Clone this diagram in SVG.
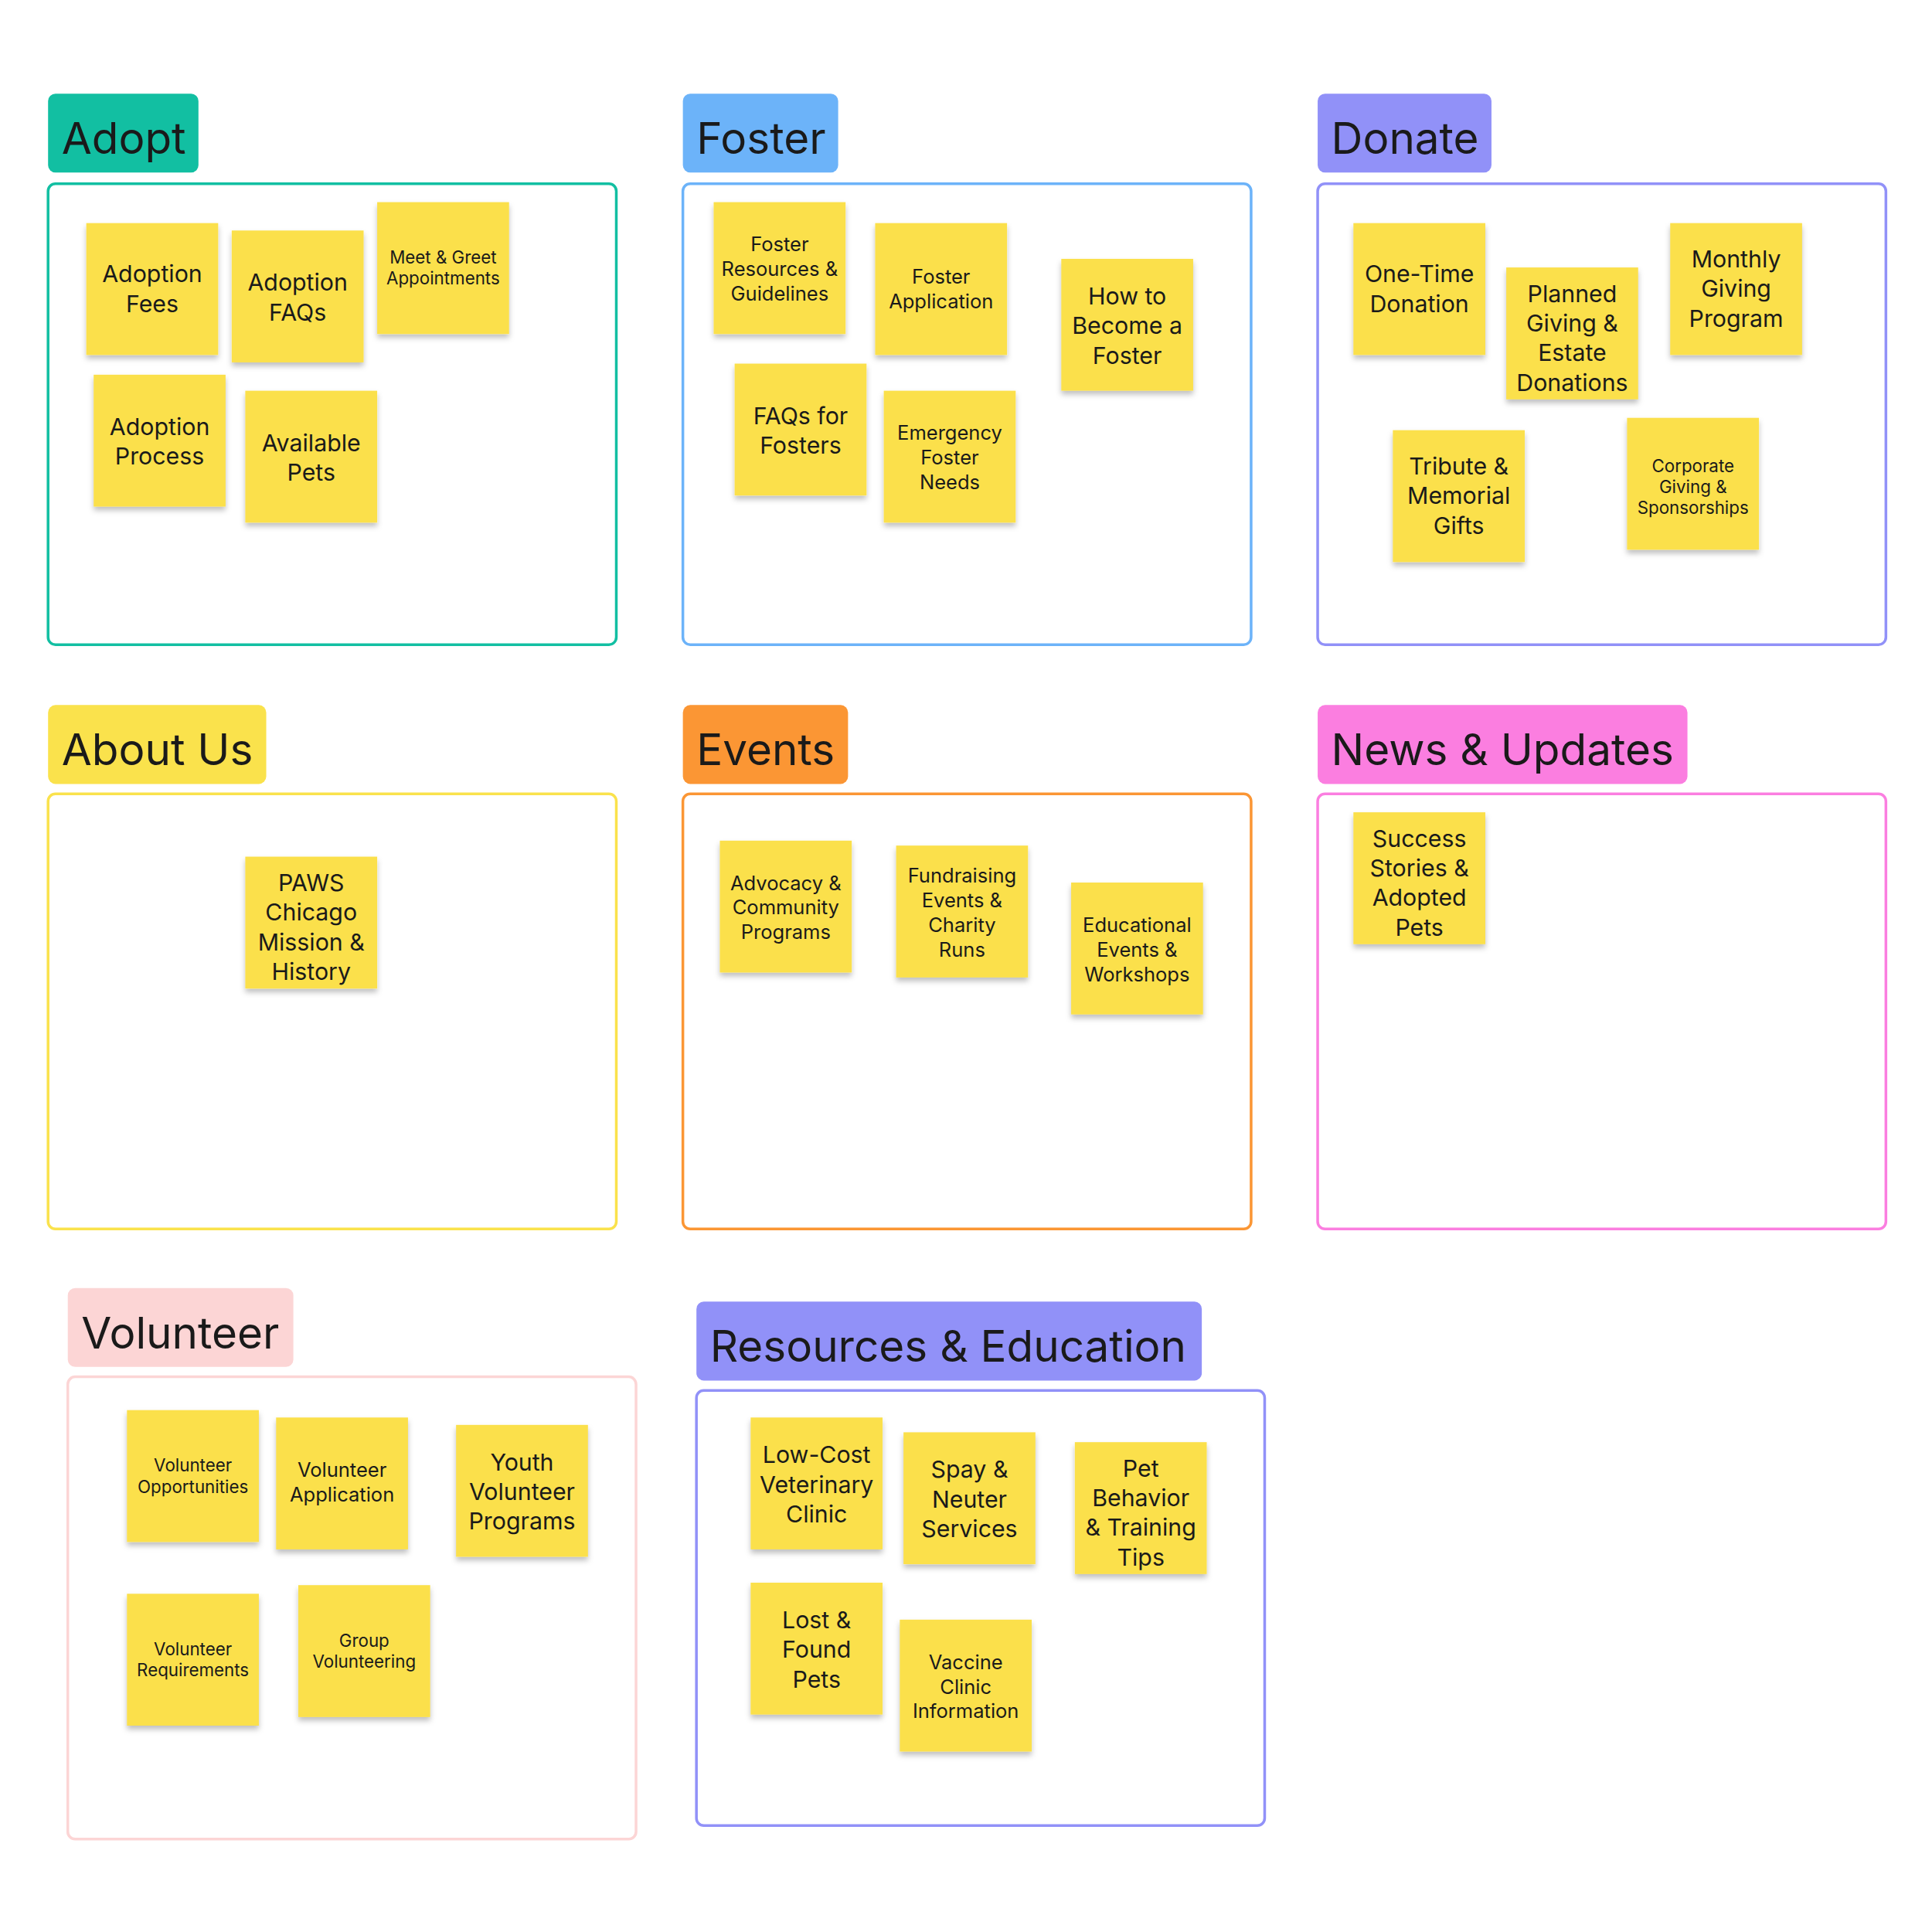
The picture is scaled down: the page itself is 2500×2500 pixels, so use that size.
<svg xmlns="http://www.w3.org/2000/svg" width="2500" height="2500" viewBox="0 0 2500 2500">
<defs>
<filter id="sh" x="-20%" y="-20%" width="140%" height="150%"><feDropShadow dx="0" dy="3" stdDeviation="2.5" flood-color="#000" flood-opacity="0.25"/></filter>
</defs>
<style>
.fr{fill:#fff;stroke-width:2.2}
.lb{font-family:Inter,"Noto Sans",sans-serif;font-size:35.5px;fill:#1a1a1a}
.st{fill:#fbe04c;filter:url(#sh)}
.t{font-family:Inter,"Noto Sans",sans-serif;fill:#1a1a1a;text-anchor:middle}
</style>
<rect width="2500" height="2500" fill="#fff"/>
<g transform="scale(1.595)">
<g id="frames">
<rect x="39" y="149" width="461" height="374" rx="6" class="fr" stroke="#12bfa2"/>
<rect x="39" y="76" width="122" height="64" rx="6" fill="#12bfa2"/><text x="50" y="125" class="lb">Adopt</text>
<rect x="554" y="149" width="461" height="374" rx="6" class="fr" stroke="#6cb3f9"/>
<rect x="554" y="76" width="126" height="64" rx="6" fill="#6cb3f9"/><text x="565" y="125" class="lb">Foster</text>
<rect x="1069" y="149" width="461" height="374" rx="6" class="fr" stroke="#9191f8"/>
<rect x="1069" y="76" width="141" height="64" rx="6" fill="#9191f8"/><text x="1080" y="125" class="lb">Donate</text>
<rect x="39" y="644" width="461" height="353" rx="6" class="fr" stroke="#fae24c"/>
<rect x="39" y="572" width="177" height="64" rx="6" fill="#fae24c"/><text x="50" y="621" class="lb">About Us</text>
<rect x="554" y="644" width="461" height="353" rx="6" class="fr" stroke="#fb9634"/>
<rect x="554" y="572" width="134" height="64" rx="6" fill="#fb9634"/><text x="565" y="621" class="lb">Events</text>
<rect x="1069" y="644" width="461" height="353" rx="6" class="fr" stroke="#fb7ee0"/>
<rect x="1069" y="572" width="300" height="64" rx="6" fill="#fb7ee0"/><text x="1080" y="621" class="lb">News &amp; Updates</text>
<rect x="55" y="1117" width="461" height="375" rx="6" class="fr" stroke="#fcd5d5"/>
<rect x="55" y="1045" width="183" height="64" rx="6" fill="#fcd5d5"/><text x="66" y="1094" class="lb">Volunteer</text>
<rect x="565" y="1128" width="461" height="353" rx="6" class="fr" stroke="#9191f8"/>
<rect x="565" y="1056" width="410" height="64" rx="6" fill="#9191f8"/><text x="576" y="1105" class="lb">Resources &amp; Education</text>
</g>
<g id="n1"><rect x="70" y="181" width="107" height="107" class="st"/><text class="t" font-size="19"><tspan x="123.5" y="229">Adoption</tspan><tspan x="123.5" y="253">Fees</tspan></text></g>
<g id="n2"><rect x="188" y="187" width="107" height="107" class="st"/><text class="t" font-size="19"><tspan x="241.5" y="236">Adoption</tspan><tspan x="241.5" y="260">FAQs</tspan></text></g>
<g id="n3"><rect x="306" y="164" width="107" height="107" class="st"/><text class="t" font-size="14"><tspan x="359.5" y="214">Meet &amp; Greet</tspan><tspan x="359.5" y="231">Appointments</tspan></text></g>
<g id="n4"><rect x="76" y="304" width="107" height="107" class="st"/><text class="t" font-size="19"><tspan x="129.5" y="353">Adoption</tspan><tspan x="129.5" y="377">Process</tspan></text></g>
<g id="n5"><rect x="199" y="317" width="107" height="107" class="st"/><text class="t" font-size="19"><tspan x="252.5" y="366">Available</tspan><tspan x="252.5" y="390">Pets</tspan></text></g>
<g id="n6"><rect x="579" y="164" width="107" height="107" class="st"/><text class="t" font-size="16"><tspan x="632.5" y="204">Foster</tspan><tspan x="632.5" y="224">Resources &amp;</tspan><tspan x="632.5" y="244">Guidelines</tspan></text></g>
<g id="n7"><rect x="710" y="181" width="107" height="107" class="st"/><text class="t" font-size="16"><tspan x="763.5" y="230">Foster</tspan><tspan x="763.5" y="250">Application</tspan></text></g>
<g id="n8"><rect x="861" y="210" width="107" height="107" class="st"/><text class="t" font-size="19"><tspan x="914.5" y="247">How to</tspan><tspan x="914.5" y="271">Become a</tspan><tspan x="914.5" y="295">Foster</tspan></text></g>
<g id="n9"><rect x="596" y="295" width="107" height="107" class="st"/><text class="t" font-size="19"><tspan x="649.5" y="344">FAQs for</tspan><tspan x="649.5" y="368">Fosters</tspan></text></g>
<g id="n10"><rect x="717" y="317" width="107" height="107" class="st"/><text class="t" font-size="16"><tspan x="770.5" y="357">Emergency</tspan><tspan x="770.5" y="377">Foster</tspan><tspan x="770.5" y="397">Needs</tspan></text></g>
<g id="n11"><rect x="1098" y="181" width="107" height="107" class="st"/><text class="t" font-size="19"><tspan x="1151.5" y="229">One-Time</tspan><tspan x="1151.5" y="253">Donation</tspan></text></g>
<g id="n12"><rect x="1222" y="217" width="107" height="107" class="st"/><text class="t" font-size="19"><tspan x="1275.5" y="245">Planned</tspan><tspan x="1275.5" y="269">Giving &amp;</tspan><tspan x="1275.5" y="293">Estate</tspan><tspan x="1275.5" y="317">Donations</tspan></text></g>
<g id="n13"><rect x="1355" y="181" width="107" height="107" class="st"/><text class="t" font-size="19"><tspan x="1408.5" y="217">Monthly</tspan><tspan x="1408.5" y="241">Giving</tspan><tspan x="1408.5" y="265">Program</tspan></text></g>
<g id="n14"><rect x="1130" y="349" width="107" height="107" class="st"/><text class="t" font-size="19"><tspan x="1183.5" y="385">Tribute &amp;</tspan><tspan x="1183.5" y="409">Memorial</tspan><tspan x="1183.5" y="433">Gifts</tspan></text></g>
<g id="n15"><rect x="1320" y="339" width="107" height="107" class="st"/><text class="t" font-size="14"><tspan x="1373.5" y="383">Corporate</tspan><tspan x="1373.5" y="400">Giving &amp;</tspan><tspan x="1373.5" y="417">Sponsorships</tspan></text></g>
<g id="n16"><rect x="199" y="695" width="107" height="107" class="st"/><text class="t" font-size="19"><tspan x="252.5" y="723">PAWS</tspan><tspan x="252.5" y="747">Chicago</tspan><tspan x="252.5" y="771">Mission &amp;</tspan><tspan x="252.5" y="795">History</tspan></text></g>
<g id="n17"><rect x="584" y="682" width="107" height="107" class="st"/><text class="t" font-size="16"><tspan x="637.5" y="722">Advocacy &amp;</tspan><tspan x="637.5" y="742">Community</tspan><tspan x="637.5" y="762">Programs</tspan></text></g>
<g id="n18"><rect x="727" y="686" width="107" height="107" class="st"/><text class="t" font-size="16"><tspan x="780.5" y="716">Fundraising</tspan><tspan x="780.5" y="736">Events &amp;</tspan><tspan x="780.5" y="756">Charity</tspan><tspan x="780.5" y="776">Runs</tspan></text></g>
<g id="n19"><rect x="869" y="716" width="107" height="107" class="st"/><text class="t" font-size="16"><tspan x="922.5" y="756">Educational</tspan><tspan x="922.5" y="776">Events &amp;</tspan><tspan x="922.5" y="796">Workshops</tspan></text></g>
<g id="n20"><rect x="1098" y="659" width="107" height="107" class="st"/><text class="t" font-size="19"><tspan x="1151.5" y="687">Success</tspan><tspan x="1151.5" y="711">Stories &amp;</tspan><tspan x="1151.5" y="735">Adopted</tspan><tspan x="1151.5" y="759">Pets</tspan></text></g>
<g id="n21"><rect x="103" y="1144" width="107" height="107" class="st"/><text class="t" font-size="14"><tspan x="156.5" y="1194">Volunteer</tspan><tspan x="156.5" y="1211">Opportunities</tspan></text></g>
<g id="n22"><rect x="224" y="1150" width="107" height="107" class="st"/><text class="t" font-size="16"><tspan x="277.5" y="1198">Volunteer</tspan><tspan x="277.5" y="1218">Application</tspan></text></g>
<g id="n23"><rect x="370" y="1156" width="107" height="107" class="st"/><text class="t" font-size="19"><tspan x="423.5" y="1193">Youth</tspan><tspan x="423.5" y="1217">Volunteer</tspan><tspan x="423.5" y="1241">Programs</tspan></text></g>
<g id="n24"><rect x="103" y="1293" width="107" height="107" class="st"/><text class="t" font-size="14"><tspan x="156.5" y="1343">Volunteer</tspan><tspan x="156.5" y="1360">Requirements</tspan></text></g>
<g id="n25"><rect x="242" y="1286" width="107" height="107" class="st"/><text class="t" font-size="14"><tspan x="295.5" y="1336">Group</tspan><tspan x="295.5" y="1353">Volunteering</tspan></text></g>
<g id="n26"><rect x="609" y="1150" width="107" height="107" class="st"/><text class="t" font-size="19"><tspan x="662.5" y="1187">Low-Cost</tspan><tspan x="662.5" y="1211">Veterinary</tspan><tspan x="662.5" y="1235">Clinic</tspan></text></g>
<g id="n27"><rect x="733" y="1162" width="107" height="107" class="st"/><text class="t" font-size="19"><tspan x="786.5" y="1199">Spay &amp;</tspan><tspan x="786.5" y="1223">Neuter</tspan><tspan x="786.5" y="1247">Services</tspan></text></g>
<g id="n28"><rect x="872" y="1170" width="107" height="107" class="st"/><text class="t" font-size="19"><tspan x="925.5" y="1198">Pet</tspan><tspan x="925.5" y="1222">Behavior</tspan><tspan x="925.5" y="1246">&amp; Training</tspan><tspan x="925.5" y="1270">Tips</tspan></text></g>
<g id="n29"><rect x="609" y="1284" width="107" height="107" class="st"/><text class="t" font-size="19"><tspan x="662.5" y="1321">Lost &amp;</tspan><tspan x="662.5" y="1345">Found</tspan><tspan x="662.5" y="1369">Pets</tspan></text></g>
<g id="n30"><rect x="730" y="1314" width="107" height="107" class="st"/><text class="t" font-size="16"><tspan x="783.5" y="1354">Vaccine</tspan><tspan x="783.5" y="1374">Clinic</tspan><tspan x="783.5" y="1394">Information</tspan></text></g>
<g id="connectors"/>
</g>
</svg>
